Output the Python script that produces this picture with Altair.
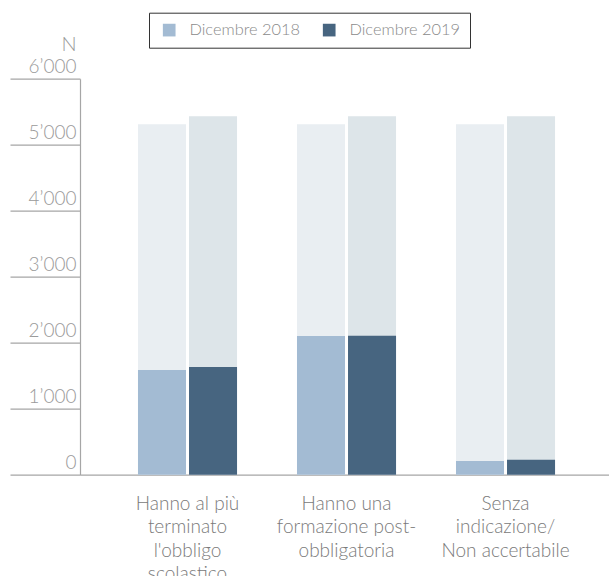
import altair as alt
import pandas as pd

categories = [
    "Hanno al più\nterminato\nl'obbligo\nscolastico",
    "Hanno una\nformazione post-\nobbligatoria",
    "Senza\nindicazione/\nNon accertabile",
]
years = ["Dicembre 2018", "Dicembre 2019"]
values_2018 = [1585, 2100, 207]
values_2019 = [1630, 2105, 227]
totals = [5310, 5430]  # total per year (background bars)
y_ticks = [0, 1000, 2000, 3000, 4000, 5000, 6000]

rows = []
for i, cat in enumerate(categories):
    for j, (yr, vals) in enumerate(zip(years, [values_2018, values_2019])):
        rows.append({"cat": cat, "year": yr, "value": vals[i], "total": totals[j]})
df = pd.DataFrame(rows)

FONT = "Lato"
x_enc = alt.X(
    "cat:N", sort=categories, title=None,
    scale=alt.Scale(paddingInner=0.377, paddingOuter=0.352, align=0.518),
    axis=alt.Axis(
        labelAngle=0, ticks=False, labelPadding=20, labelFontSize=19,
        labelLineHeight=23.3, labelColor="#7a7a7a", labelFont=FONT, labelFontWeight=300,
        labelExpr="split(datum.label, '\\n')", labelLimit=0,
        domainColor="#a6a6a6", domainWidth=1.2, labelBaseline="top",
    ),
)
xo_enc = alt.XOffset("year:N", sort=years, scale=alt.Scale(paddingInner=0.0588, paddingOuter=0))

y_axis = alt.Axis(
    values=y_ticks, grid=False, tickSize=70, tickColor="#a6a6a6", tickWidth=1.2,
    domainColor="#a6a6a6", domainWidth=1.2,
    labelAlign="right", labelBaseline="alphabetic", labelOffset=-6.5, labelPadding=-66,
    labelFontSize=19, labelColor="#9a9a9a", labelFont=FONT, labelFontWeight=300,
    labelExpr="replace(format(datum.value, ','), ',', '\u2019')",
    title="N", titleAngle=0, titleAlign="right", titleBaseline="alphabetic",
    titleX=-4, titleY=-28.5, titleFontSize=20, titleColor="#9a9a9a",
    titleFont=FONT, titleFontWeight=300,
)
y_scale = alt.Scale(domain=[0, 6000], nice=False)

bg = alt.Chart(df).mark_bar().encode(
    x=x_enc, xOffset=xo_enc,
    y=alt.Y("total:Q", scale=y_scale, axis=y_axis, stack=None),
    color=alt.Color("year:N", scale=alt.Scale(domain=years, range=["#e9eef2", "#dde5e9"]), legend=None),
)
fg = alt.Chart(df).mark_bar().encode(
    x=x_enc, xOffset=xo_enc,
    y=alt.Y("value:Q", scale=y_scale, axis=y_axis, stack=None),
    color=alt.Color(
        "year:N", scale=alt.Scale(domain=years, range=["#a3bbd3", "#476580"]),
        legend=alt.Legend(
            orient="none", legendX=69, legendY=-66, direction="horizontal", title=None,
            symbolType="square", symbolSize=161, symbolStrokeWidth=0, symbolOffset=3,
            labelFontSize=16.4, labelColor="#8a8a8a", labelFont=FONT, labelFontWeight=300,
            labelExpr="datum.label == 'Dicembre 2019' ? datum.label + '\u2002\u2009' : datum.label",
            labelOffset=12, columnPadding=17, padding=9,
            strokeColor="#333333", fillColor="white",
        ),
    ),
)

chart = alt.layer(bg, fg).resolve_scale(color="independent").properties(
    width=529, height=396,
    autosize=alt.AutoSizeParams(type="none"),
    padding={"left": 80, "top": 78.7, "right": 0, "bottom": 101.3},
).configure(font=FONT).configure_view(stroke=None)

chart.save("out.html", embed_options={"renderer": "svg", "actions": False})
